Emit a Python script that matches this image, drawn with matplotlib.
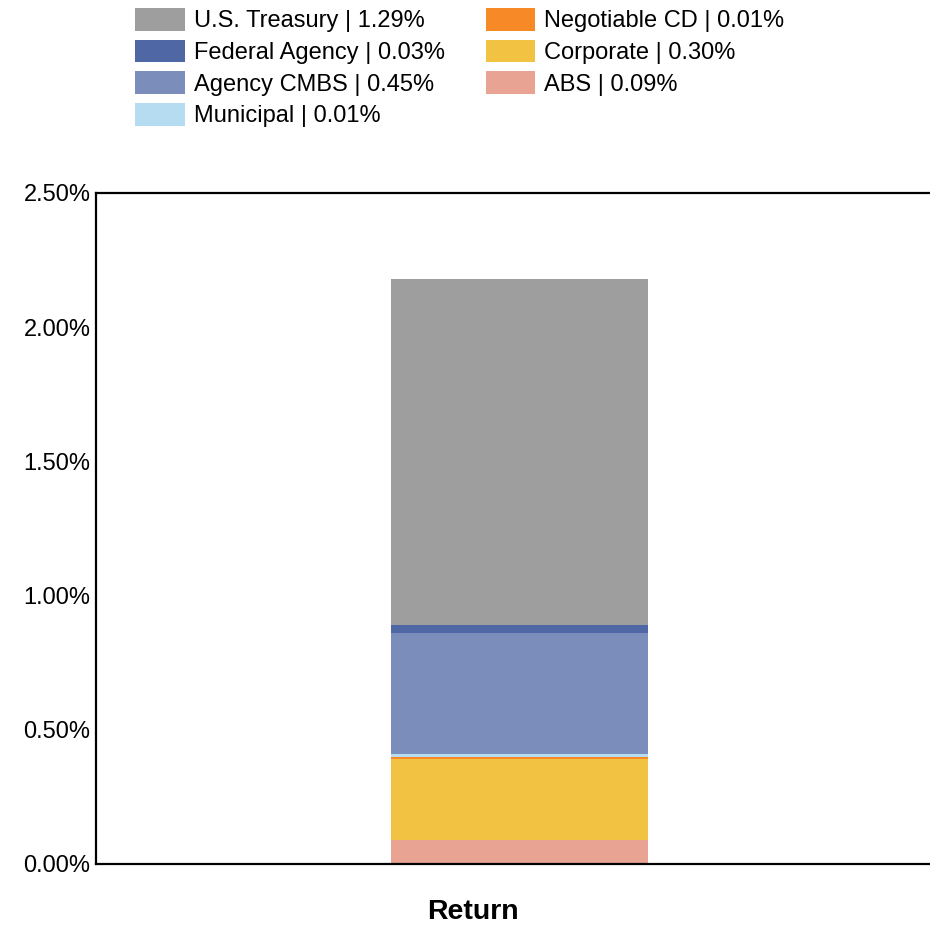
import matplotlib
matplotlib.use("Agg")
import matplotlib.pyplot as plt
from matplotlib.ticker import FuncFormatter

plt.rcParams['font.family'] = ['Liberation Sans', 'DejaVu Sans']

# sectors, bottom to top of the stack
sectors = ["ABS", "Corporate", "Negotiable CD", "Municipal",
           "Agency CMBS", "Federal Agency", "U.S. Treasury"]
returns = [0.09, 0.30, 0.01, 0.01, 0.45, 0.03, 1.29]
colors = ["#e8a393", "#f2c343", "#f78a26", "#b6dcf2",
          "#7a8dbb", "#4f67a5", "#9e9e9e"]

# legend order (column-wise)
legend_order = ["U.S. Treasury", "Federal Agency", "Agency CMBS", "Municipal",
                "Negotiable CD", "Corporate", "ABS"]

category = "Return"

fig = plt.figure(figsize=(9.3, 9.26), dpi=100)
ax = fig.add_axes([96/930, 62/926, 847/930, 671/926])

bars = {}
bottom = 0.0
for name, val, col in zip(sectors, returns, colors):
    b = ax.bar([0], [val], bottom=bottom, width=0.607, color=col,
               edgecolor="none", linewidth=0)
    bars[name] = b
    bottom += val

ax.set_xlim(-1, 1)
ax.set_ylim(0, 2.5)
ax.set_yticks([0, 0.5, 1.0, 1.5, 2.0, 2.5])
ax.yaxis.set_major_formatter(FuncFormatter(lambda v, p: f"{v:.2f}%"))
ax.set_xticks([])
ax.tick_params(axis="y", length=0, pad=4, labelsize=17)

# category label sits left of the bar centre in the original
fig.text(473/930, 1 - 919/926, category, fontsize=20.5, fontweight="bold",
         ha="center", va="baseline")

for s in ["top", "left", "bottom", "right"]:
    ax.spines[s].set_linewidth(1.6)
    ax.spines[s].set_color("black")

vals = dict(zip(sectors, returns))
handles = [bars[n] for n in legend_order]
labels = [f"{n} | {vals[n]:.2f}%" for n in legend_order]
fig.legend(handles, labels, loc="upper left", ncol=2,
           bbox_to_anchor=(135/930, 1 - 8/926), frameon=False,
           fontsize=17, borderpad=0, borderaxespad=0,
           handlelength=2.1, handleheight=1.1, handletextpad=0.38,
           labelspacing=0.31, columnspacing=1.75)

fig.savefig("out.png", dpi=100)
